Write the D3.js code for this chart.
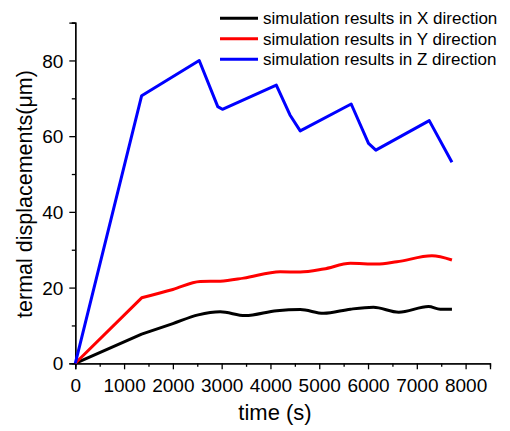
<!DOCTYPE html>
<html><head><meta charset="utf-8">
<script src="https://cdn.jsdelivr.net/npm/d3@7"></script>
<style>body{margin:0;background:#fff}svg{display:block}text{font-family:Arial,"Liberation Sans",sans-serif;fill:#000}</style>
</head><body>
<script>
const timeX = [0, 1360, 2000, 2520, 2970, 3480, 4130, 4610, 5090, 5640, 6110, 6630, 7240, 7480, 7720];
const valX  = [0, 7.7, 10.5, 12.8, 13.6, 12.6, 13.9, 14.2, 13.2, 14.3, 14.8, 13.5, 15.0, 14.3, 14.3];
const timeY = [0, 1360, 2000, 2560, 2970, 3450, 4200, 4610, 5090, 5640, 6180, 6590, 7310, 7720];
const valY  = [0, 17.3, 19.5, 21.6, 21.7, 22.5, 24.2, 24.1, 24.9, 26.4, 26.2, 26.8, 28.4, 27.3];
const timeZ = [0, 1360, 2540, 2920, 3015, 4120, 4400, 4610, 5655, 6010, 6160, 7255, 7720];
const valZ  = [0, 70.7, 80.0, 67.8, 67.1, 73.5, 65.6, 61.4, 68.5, 58.1, 56.3, 64.1, 53.1];
const seriesNames = ["simulation results in X direction","simulation results in Y direction","simulation results in Z direction"];
const seriesColors = ["#000000","#ff0000","#0000ff"];
const xTicks = [0,1000,2000,3000,4000,5000,6000,7000,8000];
const yTicks = [0,20,40,60,80];

const W=510,H=431;
const svg=d3.select("body").append("svg").attr("width",W).attr("height",H);
const x=d3.scaleLinear().domain([0,8500]).range([75.3,490]);
const y=d3.scaleLinear().domain([0,90]).range([363.3,22.6]);

// axes
const xAxis=svg.append("g").attr("transform",`translate(0,${y(0)})`)
  .call(d3.axisBottom(x).tickValues(xTicks).tickSize(6).tickPadding(9).tickFormat(d3.format("d")));
svg.append("g").attr("transform",`translate(0,${y(0)})`)
  .call(d3.axisBottom(x).tickValues(d3.range(500,8500,1000)).tickSize(3.5).tickFormat(""));
const yAxis=svg.append("g").attr("transform",`translate(${x(0)},0)`)
  .call(d3.axisLeft(y).tickValues(yTicks).tickSize(6).tickPadding(6));
svg.append("g").attr("transform",`translate(${x(0)},0)`)
  .call(d3.axisLeft(y).tickValues([10,30,50,70,90]).tickSize(3.5).tickFormat(""));
svg.selectAll(".domain").attr("stroke","#000").attr("stroke-width",1.3);
svg.selectAll(".tick line").attr("stroke","#000").attr("stroke-width",1.3);
svg.selectAll(".tick text").style("font-size","19px").attr("fill","#000");
yAxis.selectAll(".tick text").attr("dy","0.35em");

// lines
const data=[[timeX,valX],[timeY,valY],[timeZ,valZ]];
data.forEach((s,i)=>{
  const pts=s[0].map((t,j)=>[t,s[1][j]]);
  const line=d3.line().x(d=>x(d[0])).y(d=>y(d[1]));
  if(i<2){
    const p=svg.append("path").attr("fill","none").attr("stroke",seriesColors[i]).attr("stroke-width",3)
      .attr("stroke-linejoin","round");
    const d1=line.curve(d3.curveLinear)(pts.slice(0,2));
    const d2=line.curve(d3.curveMonotoneX)(pts.slice(1));
    p.attr("d",d1+d2.replace(/^M/,"L"));
  } else {
    svg.append("path").datum(pts)
      .attr("fill","none").attr("stroke",seriesColors[i]).attr("stroke-width",3)
      .attr("stroke-linejoin","round")
      .attr("d",line.curve(d3.curveLinear));
  }
});

// titles
svg.append("text").attr("x",275).attr("y",420).attr("text-anchor","middle").style("font-size","22px").text("time (s)");
svg.append("text").attr("transform","translate(32,194) rotate(-90)").attr("text-anchor","middle").style("font-size","21.5px").text("termal displacements(μm)");

// legend
const lg=svg.append("g");
seriesNames.forEach((n,i)=>{
  const cy=18.3+i*20.5;
  lg.append("line").attr("x1",220).attr("x2",258).attr("y1",cy).attr("y2",cy).attr("stroke",seriesColors[i]).attr("stroke-width",3);
  lg.append("text").attr("x",263).attr("y",cy+6).style("font-size","17px").text(n);
});
</script>
</body></html>
